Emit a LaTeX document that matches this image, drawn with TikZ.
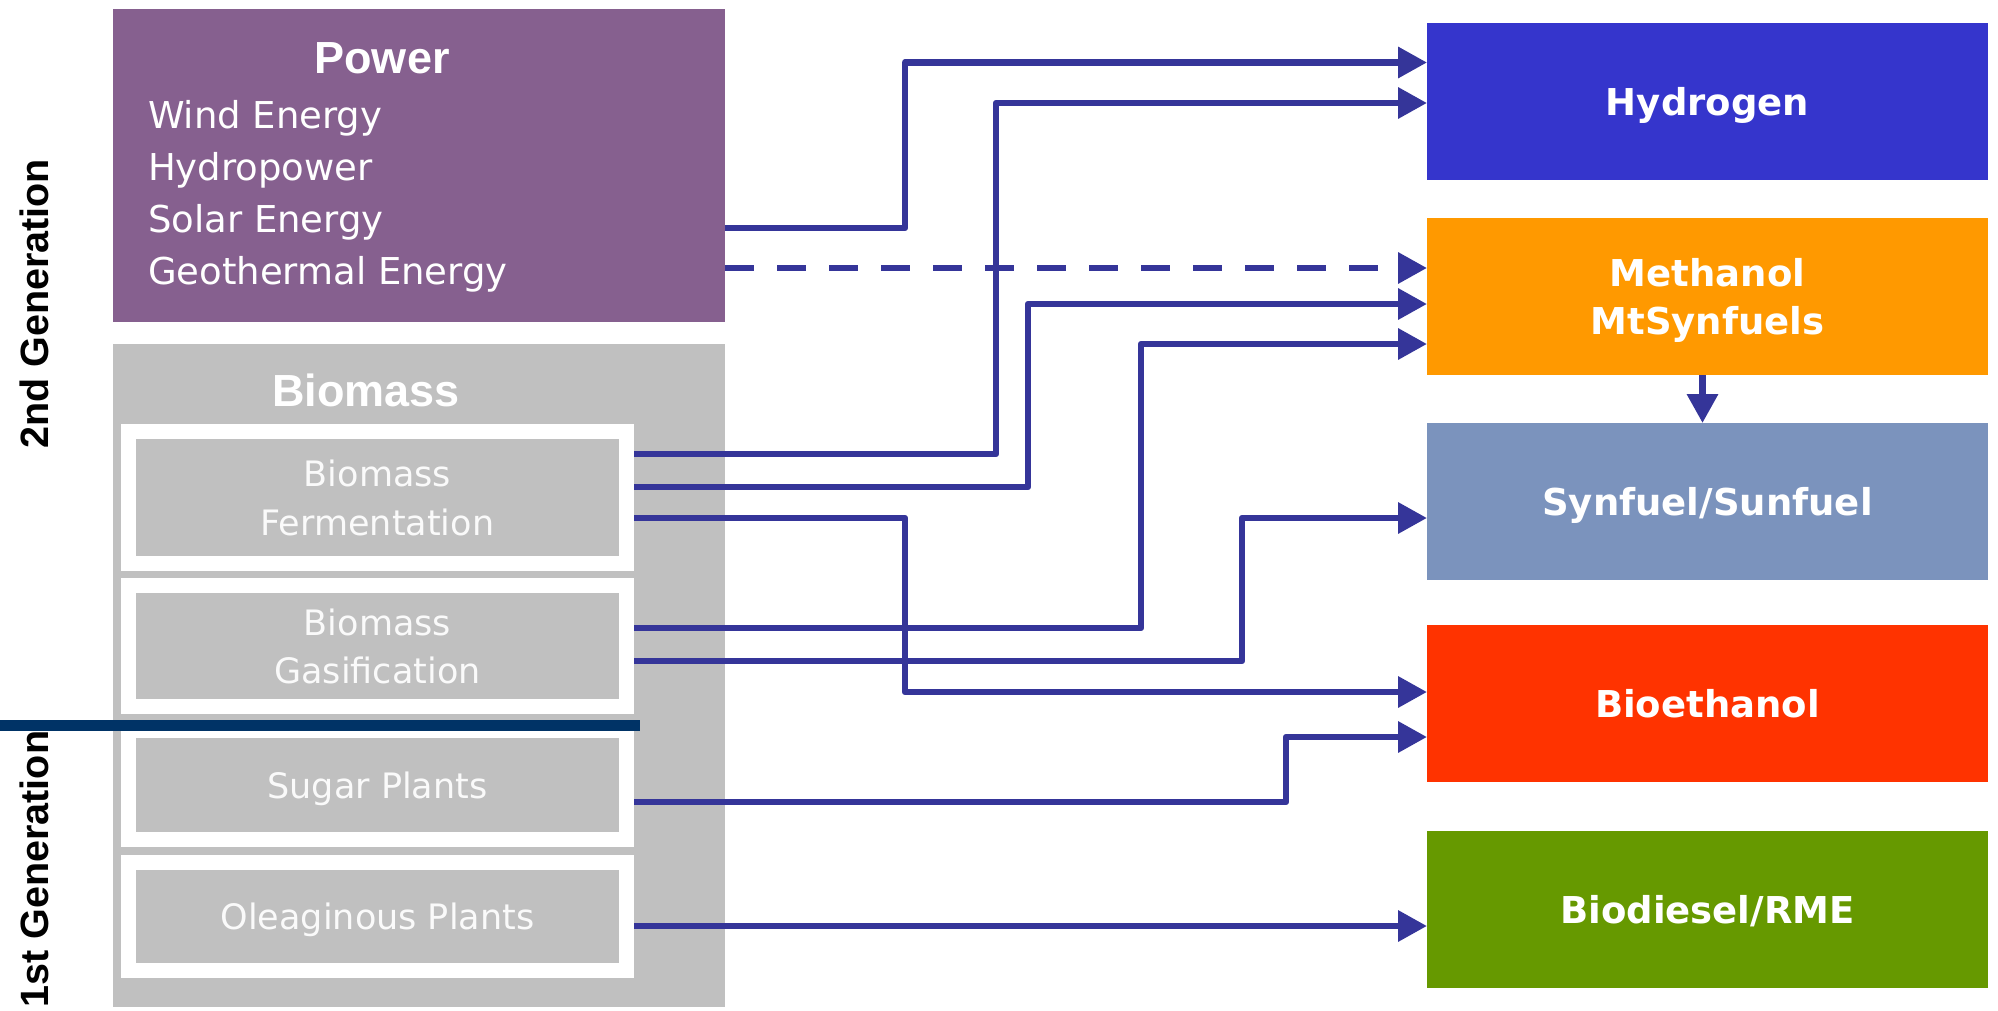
\documentclass[tikz,border=0pt]{standalone}
\usepackage{fontspec}
\setmainfont{DejaVu Sans}
\newfontfamily\headfont{Liberation Sans}
\usetikzlibrary{positioning,arrows.meta}
\definecolor{pwpurple}{RGB}{134,96,143}
\definecolor{biogray}{RGB}{192,192,192}
\definecolor{srctext}{RGB}{250,250,250}
\definecolor{flowblue}{RGB}{53,53,153}
\definecolor{genline}{RGB}{0,51,102}
\definecolor{hydblue}{RGB}{53,53,204}
\definecolor{methorange}{RGB}{255,153,0}
\definecolor{synblue}{RGB}{123,147,189}
\definecolor{ethred}{RGB}{255,51,0}
\definecolor{dieselgreen}{RGB}{102,153,0}

\begin{document}
\begin{tikzpicture}[x=1pt,y=-1pt,
  every node/.style={inner sep=0pt,outer sep=0pt},
  group/.style={anchor=north west,minimum width=612pt},
  head/.style={font=\headfont\bfseries\fontsize{45}{54}\selectfont,text=white,anchor=base},
  item/.style={font=\fontsize{37}{44}\selectfont,text=white,anchor=base west},
  src/.style={fill=biogray,draw=white,line width=15pt,outer sep=7.5pt,minimum width=498pt,align=center,text depth=0pt,text=srctext,font=\fontsize{35}{48.5}\selectfont},
  fuel/.style={minimum width=561pt,minimum height=157pt,align=center,text depth=0pt,text=white,font=\bfseries\fontsize{37}{48}\selectfont},
  gen/.style={font=\headfont\bfseries\fontsize{39.5}{48}\selectfont,rotate=90,anchor=base},
  flow/.style={flowblue,line width=6.5pt,line join=round,-{Triangle[length=29pt,width=30pt]}}]
\useasboundingbox (0,0) rectangle (1998,1010);

% sources
\node[group,fill=pwpurple,minimum height=313pt] (power) at (113,9) {};
\node[head] (powertitle) at (382,73) {Power};
\node[item] (wind) at (148,128) {Wind Energy};
\node[item] (hydropw) at (148,180) {Hydropower};
\node[item] (solar) at (148,232) {Solar Energy};
\node[item] (geo) at (148,284) {Geothermal Energy};

\node[group,fill=biogray,minimum height=663pt,below=22pt of power.south west,anchor=north west] (biomass) {};
\node[head] (biotitle) at (366,406) {Biomass};
\node[src,minimum height=132pt,anchor=north west] (ferm) at (121,424) {Biomass\\Fermentation};
\node[src,minimum height=121pt,below=7pt of ferm] (gas) {Biomass\\Gasification};
\node[src,minimum height=109pt,below=9pt of gas] (sugar) {Sugar Plants};
\node[src,minimum height=108pt,below=8pt of sugar] (oleag) {Oleaginous Plants};

% generations
\draw[genline,line width=11pt] (0,725) -- (640,725);
\node[gen] (gen2) at (48,304) {2nd Generation};
\node[gen] (gen1) at (48,869) {1st Generation};

% fuels
\node[fuel,fill=hydblue,anchor=north west] (hydrogen) at (1427,23) {Hydrogen};
\node[fuel,fill=methorange,below=38pt of hydrogen] (meth) {Methanol\\MtSynfuels};
\node[fuel,fill=synblue,below=48pt of meth] (syn) {Synfuel/Sunfuel};
\node[fuel,fill=ethred,below=45pt of syn] (eth) {Bioethanol};
\node[fuel,fill=dieselgreen,below=49pt of eth] (diesel) {Biodiesel/RME};

% flows
\draw[flow] ([yshift=-62.5pt]power.east) -- ++(180pt,0) |- ([yshift=39pt]hydrogen.west);
\coordinate (pwdash) at ([yshift=-102.5pt]power.east);
\draw[flow,dash pattern=on 29pt off 23pt] (pwdash) -- (pwdash -| meth.west);
\draw[flow] ([yshift=43.5pt]ferm.east) -- ++(362pt,0) |- ([yshift=-1.5pt]hydrogen.west);
\draw[flow] ([yshift=10.5pt]ferm.east) -- ++(394pt,0) |- ([yshift=-7.5pt]meth.west);
\draw[flow] ([yshift=-20.5pt]ferm.east) -- ++(271pt,0) |- ([yshift=11.5pt]eth.west);
\draw[flow] ([yshift=18pt]gas.east) -- ++(507pt,0) |- ([yshift=-47.5pt]meth.west);
\draw[flow] ([yshift=-15pt]gas.east) -- ++(608pt,0) |- ([yshift=-16.5pt]syn.west);
\draw[flow] ([yshift=-17pt]sugar.east) -- ++(652pt,0) |- ([yshift=-33.5pt]eth.west);
\coordinate (oleout) at ([yshift=-9.5pt]oleag.east);
\draw[flow] (oleout) -- (oleout -| diesel.west);
\draw[flow] ([xshift=-5pt]meth.south) -- ([xshift=-5pt]syn.north);
\end{tikzpicture}
\end{document}
